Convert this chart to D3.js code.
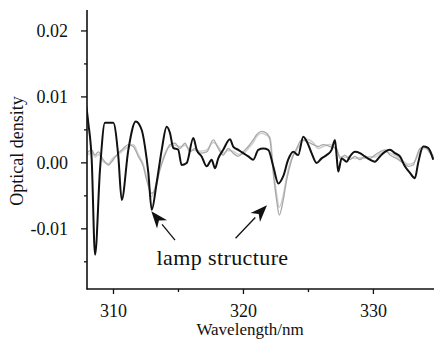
<!DOCTYPE html>
<html><head><meta charset="utf-8">
<script src="https://cdn.jsdelivr.net/npm/d3@7"></script>
<style>body{margin:0;background:#fff}svg{display:block}svg text{font-family:'Liberation Serif','Times New Roman',serif}</style>
</head><body>
<script>
// ---- data ----
const blackX = [307.95,308.1,308.36,308.62,309.0,309.38,310.02,310.41,310.67,311.18,311.75,312.21,312.46,312.72,312.98,313.36,313.75,314.13,314.38,314.64,315.02,315.28,315.67,316.18,316.44,316.82,317.21,317.59,317.85,318.1,318.48,319.0,319.25,319.64,320.02,320.41,320.79,321.18,321.56,321.95,322.33,322.72,323.1,323.48,323.87,324.25,324.64,325.02,325.28,325.67,326.05,326.44,326.82,327.08,327.21,327.33,327.59,327.98,328.23,328.62,329.0,329.38,329.77,330.15,330.54,330.92,331.31,331.69,332.08,332.46,332.85,333.23,333.48,333.87,334.25,334.64];
const blackY = [0.0085,0.0060,0.0005,-0.0140,-0.0011,0.0060,0.0060,0.0009,-0.0057,0.0019,0.0062,0.0049,0.0024,-0.0016,-0.0072,-0.0031,0.0019,0.0054,0.0045,0.0022,0.0019,-0.0004,-0.0001,0.0037,0.0019,0.0009,-0.0006,0.0004,-0.0009,0.0006,0.0019,0.0035,0.0024,0.0019,0.0014,0.0009,0.0004,0.0019,0.0021,0.0019,-0.0006,-0.0032,-0.0021,0.0004,0.0016,0.0011,0.0039,0.0027,0.0014,-0.0001,0.0006,0.0011,0.0019,0.0034,0.0009,-0.0014,0.0006,0.0001,0.0009,0.0016,0.0014,0.0009,0.0004,0.0001,0.0009,0.0016,0.0019,0.0014,0.0009,-0.0006,-0.0016,-0.0024,-0.0001,0.0024,0.0022,0.0004];
const grayX = [307.98,308.36,308.62,308.87,309.25,309.64,310.02,310.41,310.79,311.18,311.56,311.95,312.33,312.59,312.98,313.23,313.62,314.0,314.38,314.77,315.15,315.54,315.92,316.31,316.69,317.21,317.72,318.1,318.48,318.87,319.25,319.64,320.02,320.41,320.79,321.05,321.44,321.82,322.08,322.33,322.59,322.79,323.1,323.36,323.75,324.13,324.52,324.9,325.41,325.79,326.18,326.69,327.21,327.46,327.85,328.23,328.62,329.0,329.38,329.77,330.15,330.54,330.92,331.31,331.82,332.33,332.72,333.1,333.36,333.62,334.0,334.38,334.69];
const grayAY = [0.0014,0.0019,0.0011,0.0016,0.0004,-0.0004,0.0004,0.0014,0.0021,0.0027,0.0024,0.0009,-0.0006,-0.0027,-0.0047,-0.0042,-0.0011,0.0011,0.0027,0.0029,0.0021,0.0029,0.0016,0.0021,0.0014,0.0016,0.0034,0.0021,0.0011,0.0021,0.0014,0.0009,0.0016,0.0024,0.0034,0.0042,0.0047,0.0044,0.0034,-0.0016,-0.0057,-0.0080,-0.0057,-0.0027,0.0004,0.0021,0.0034,0.0032,0.0027,0.0024,0.0027,0.0024,0.0021,0.0006,0.0011,0.0004,0.0009,0.0004,0.0009,0.0006,0.0011,0.0016,0.0019,0.0011,0.0006,-0.0001,-0.0006,-0.0004,0.0009,0.0021,0.0024,0.0014,0.0006];
const grayBY = [0.0010,0.0015,0.0008,0.0012,0.0001,-0.0002,0.0007,0.0012,0.0018,0.0024,0.0027,0.0012,-0.0003,-0.0022,-0.0052,-0.0038,-0.0008,0.0014,0.0024,0.0026,0.0024,0.0026,0.0019,0.0018,0.0017,0.0019,0.0030,0.0024,0.0014,0.0018,0.0017,0.0012,0.0013,0.0021,0.0030,0.0039,0.0044,0.0041,0.0038,-0.0008,-0.0048,-0.0068,-0.0050,-0.0022,0.0007,0.0018,0.0031,0.0035,0.0030,0.0021,0.0024,0.0027,0.0018,0.0009,0.0008,0.0007,0.0006,0.0007,0.0006,0.0009,0.0008,0.0013,0.0016,0.0014,0.0009,0.0002,-0.0003,-0.0001,0.0006,0.0018,0.0021,0.0017,0.0009];
const yMajor = [-0.01, 0, 0.01, 0.02];
const yMajorLabels = ["-0.01", "0.00", "0.01", "0.02"];
const yMinor = [-0.015, -0.005, 0.005, 0.015];
const xMajor = [310, 320, 330];
const xMinor = [315, 325];
const xTitle = "Wavelength/nm";
const yTitle = "Optical density";
const noteText = "lamp structure";
// annotation arrows: [tail wavelength, tail OD, tip wavelength, tip OD]
const arrows = [[314.77, -0.0118, 312.95, -0.0074], [319.43, -0.0115, 321.85, -0.0065]];

// ---- drawing ----
const W = 434, H = 341;
const svg = d3.select("body").append("svg").attr("width", W).attr("height", H);
const x = d3.scaleLinear().domain([308, 334.7]).range([87, 434]);
const y = d3.scaleLinear().domain([-0.0192, 0.0231]).range([289, 10]);
const font = "'Liberation Serif','Times New Roman',serif";

svg.append("defs").append("clipPath").attr("id", "clip")
  .append("rect").attr("x", 87).attr("y", 10).attr("width", 347).attr("height", 279);

const line = d3.line().x(d => x(d[0])).y(d => y(d[1])).curve(d3.curveMonotoneX);
const g = svg.append("g").attr("clip-path", "url(#clip)");
g.append("path").datum(grayX.map((v, i) => [v, grayBY[i]]))
  .attr("d", line).attr("fill", "none").attr("stroke", "#cfcfcf").attr("stroke-width", 1.5);
g.append("path").datum(grayX.map((v, i) => [v, grayAY[i]]))
  .attr("d", line).attr("fill", "none").attr("stroke", "#a8a8a8").attr("stroke-width", 1.3);
g.append("path").datum(blackX.map((v, i) => [v, blackY[i]]))
  .attr("d", line).attr("fill", "none").attr("stroke", "#111").attr("stroke-width", 2)
  .attr("stroke-linejoin", "round");

// axes
svg.append("g").attr("transform", "translate(87,0)")
  .call(d3.axisLeft(y).tickValues(yMajor).tickFormat((d, i) => yMajorLabels[i]).tickSize(6).tickPadding(13));
svg.append("g").attr("transform", "translate(87,0)")
  .call(d3.axisLeft(y).tickValues(yMinor).tickFormat("").tickSize(3));
svg.append("g").attr("transform", "translate(0,289)")
  .call(d3.axisBottom(x).tickValues(xMajor).tickFormat(d3.format("d")).tickSize(5).tickPadding(10));
svg.append("g").attr("transform", "translate(0,289)")
  .call(d3.axisBottom(x).tickValues(xMinor).tickFormat("").tickSize(3));
svg.selectAll(".domain").remove();
svg.selectAll("g").attr("font-family", null);
svg.selectAll(".tick line").attr("stroke", "#111").attr("stroke-width", 1.3);
svg.selectAll(".tick text").style("font-family", font).attr("font-size", 18).attr("fill", "#111");
svg.append("line").attr("x1", 87).attr("x2", 87).attr("y1", 10).attr("y2", 289.5).attr("stroke", "#111").attr("stroke-width", 1.6);
svg.append("line").attr("x1", 86.5).attr("x2", 434).attr("y1", 289).attr("y2", 289).attr("stroke", "#111").attr("stroke-width", 1.6);

// titles
svg.append("text").attr("x", 250).attr("y", 335).attr("text-anchor", "middle")
  .attr("font-size", 17).attr("fill", "#111").text(xTitle);
svg.append("text").attr("transform", "translate(23,151) rotate(-90)").attr("text-anchor", "middle")
  .attr("font-size", 18).attr("fill", "#111").text(yTitle);

// annotation
svg.append("text").attr("x", 222.5).attr("y", 265).attr("text-anchor", "middle")
  .attr("font-size", 22).attr("letter-spacing", 0.4).attr("fill", "#111").text(noteText);
arrows.forEach(a => {
  const x1 = x(a[0]), y1 = y(a[1]), x2 = x(a[2]), y2 = y(a[3]);
  const ang = Math.atan2(y2 - y1, x2 - x1);
  const L = 17, Wd = 6.5;
  const bx = x2 - L * Math.cos(ang), by = y2 - L * Math.sin(ang);
  svg.append("line").attr("x1", x1).attr("y1", y1).attr("x2", bx).attr("y2", by)
    .attr("stroke", "#111").attr("stroke-width", 1.3);
  const px = -Math.sin(ang) * Wd, py = Math.cos(ang) * Wd;
  const nx = x2 - (L - 5) * Math.cos(ang), ny = y2 - (L - 5) * Math.sin(ang);
  svg.append("path").attr("d", `M${x2},${y2}L${bx + px},${by + py}L${nx},${ny}L${bx - px},${by - py}Z`)
    .attr("fill", "#111");
});
</script>
</body></html>
